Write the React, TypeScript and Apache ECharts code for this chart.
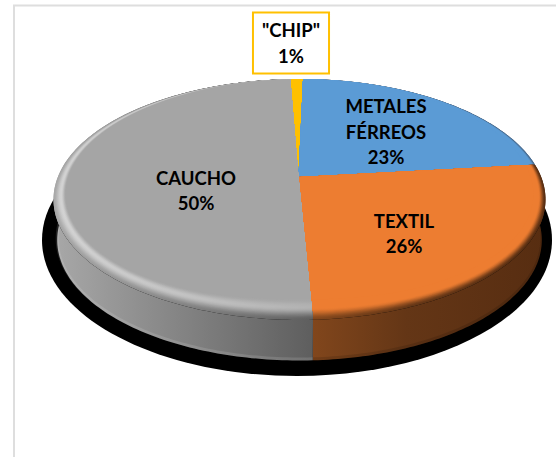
import React, { useEffect, useRef } from "react";
import * as echarts from "echarts";

// Shares of the material breakdown, clockwise from just left of twelve o'clock.
const sliceNames = ['"CHIP"', "METALES\nFÉRREOS", "TEXTIL", "CAUCHO"];
const sliceValues = [1, 23, 26, 50];
const sliceColors = ["#FFC000", "#5B9BD5", "#ED7D31", "#A5A5A5"];

// Side wall colour along x, and the rim highlight (left, right, position on the rim).
const wallStops: [number, string][][] = [
  [[0, "#b08a10"], [1, "#b08a10"]],
  [[0, "#5a6f85"], [1, "#46688c"]],
  [[0, "#81461c"], [0.4, "#643616"], [1, "#572d11"]],
  [[0, "#a8a8a8"], [1, "#5e5e5e"]],
];
const ridgeColors = [
  ["#FFC000", "#FFC000"],
  ["#5B9BD5", "#5B9BD5"],
  ["#ED7D31", "#ED7D31"],
  ["#d4d4d4", "#b2b2b2"],
];
const ridgeAt = [0.3, 0.3, 0.55, 0.6];
const wallFoot = ["rgba(0,0,0,0)", "rgba(0,0,0,0)", "rgba(0,0,0,0.12)", "rgba(255,255,255,0.12)"];
const labelAnchors = [
  [291, 43],
  [386, 131.5],
  [404, 233.5],
  [196, 190.5],
];

// Tilted-disc projection of the pie.
const W = 556;
const H = 457;
const CX = 299.5;
const CY = 199.5;
const RX = 246;
const RY = 120.5;
const APEX = [298.5, 177];
const DEPTH = 40.5;
const RIM_BANDS = 20;
const START_DEG = -2.6;
const total = sliceValues.reduce((a, b) => a + b, 0);
const K = (CY - APEX[1]) / RY;
const S = Math.sqrt(1 - K * K);

const rad = (d: number) => (d * Math.PI) / 180;

// A point on the disc's edge for a clockwise angle from twelve o'clock.
function edge(deg: number): number[] {
  const x = Math.sin(rad(deg));
  const y = Math.cos(rad(deg));
  const d = 1 + K * y;
  return [CX + (RX * x * S) / d, CY - (RY * (y + K)) / d];
}

function rimWidth(deg: number): number {
  return 0.5 + 20 * ((1 - Math.cos(rad(deg))) / 2);
}

function sliceRange(i: number): number[] {
  let from = START_DEG;
  for (let j = 0; j < i; j++) from += (sliceValues[j] / total) * 360;
  return [from, from + (sliceValues[i] / total) * 360];
}

function sampled(from: number, to: number): number[] {
  const out: number[] = [];
  const n = Math.max(2, Math.ceil(to - from));
  for (let i = 0; i <= n; i++) out.push(from + ((to - from) * i) / n);
  return out;
}

function toRgb(c: string): number[] {
  return [1, 3, 5].map((o) => parseInt(c.slice(o, o + 2), 16));
}

function toHex(rgb: number[]): string {
  return "#" + rgb.map((v) => Math.round(v).toString(16).padStart(2, "0")).join("");
}

function mix(a: string, b: string, t: number): string {
  const ca = toRgb(a);
  const cb = toRgb(b);
  return toHex(ca.map((v, n) => v + (cb[n] - v) * t));
}

function smooth(t: number): number {
  return t * t * (3 - 2 * t);
}

function horizontal(x0: number, x1: number, stops: { offset: number; color: string }[]) {
  return new echarts.graphic.LinearGradient(x0, 0, x1, 0, stops, true);
}

function extent(points: number[][]): number[] {
  const xs = points.map((p) => p[0]);
  return [Math.min(...xs), Math.max(...xs)];
}

function renderWall(params: any) {
  const i = params.dataIndex;
  const [from, to] = sliceRange(i);
  const top = sampled(from, to).map(edge);
  const foot = top.map(([x, y]) => [CX + (x - CX) * 0.985, y + DEPTH]);
  const [x0, x1] = extent(top);
  return {
    type: "group",
    children: [
      {
        type: "polygon",
        shape: { points: top.concat(foot.slice().reverse()) },
        style: { fill: horizontal(x0, x1, wallStops[i].map(([offset, color]) => ({ offset, color }))) },
      },
      {
        type: "polyline",
        shape: { points: foot.map(([x, y]) => [x, y - 1.5]) },
        style: { stroke: wallFoot[i], lineWidth: 3, fill: "none" },
      },
    ],
  };
}

// Rim colour at position t: blends out of the wall, through the highlight, into the flat face.
function rimFill(i: number, t: number, x0: number, x1: number) {
  const peak = ridgeAt[i];
  const stops = wallStops[i].map(([offset, wall]) => {
    const ridge = mix(ridgeColors[i][0], ridgeColors[i][1], offset);
    const color =
      t < peak
        ? mix(wall, ridge, smooth(t / peak))
        : mix(ridge, sliceColors[i], smooth((t - peak) / (1 - peak)));
    return { offset, color };
  });
  return horizontal(x0, x1, stops);
}

function renderFace(params: any) {
  const i = params.dataIndex;
  const [from, to] = sliceRange(i);
  const angles = sampled(from, to);
  const [x0, x1] = extent(angles.map(edge));
  const children = [];
  for (let b = 0; b <= RIM_BANDS; b++) {
    const t = b / RIM_BANDS;
    const arc = angles.map((deg) => {
      const p = edge(deg);
      const dx = p[0] - APEX[0];
      const dy = p[1] - APEX[1];
      const f = 1 - (rimWidth(deg) * t) / Math.hypot(dx, dy);
      return [APEX[0] + dx * f, APEX[1] + dy * f];
    });
    children.push({
      type: "polygon",
      shape: { points: [APEX, ...arc] },
      style: { fill: b === RIM_BANDS ? sliceColors[i] : rimFill(i, t, x0, x1) },
    });
  }
  return { type: "group", children };
}

function renderLabel(params: any, api: any) {
  const i = params.dataIndex;
  const name = sliceNames[i];
  const boxed = i === 0;
  return {
    type: "text",
    style: {
      text: `${name}\n${api.value(0)}%`,
      x: labelAnchors[i][0],
      y: labelAnchors[i][1],
      align: "center",
      verticalAlign: "middle",
      font: 'bold 18.5px Lato, "Open Sans", sans-serif',
      lineHeight: 25.5,
      fill: "#000000",
      backgroundColor: boxed ? "#ffffff" : undefined,
      borderColor: boxed ? "#FFC000" : undefined,
      borderWidth: boxed ? 2 : 0,
      padding: boxed ? [4, 8, 4, 8] : 0,
    },
  };
}

export default function App() {
  const ref = useRef<HTMLDivElement>(null);
  useEffect(() => {
    document.body.style.margin = "0";
    const chart = echarts.init(ref.current!, null, { renderer: "svg" });
    const seriesData = sliceValues.map((v, i) => ({ name: sliceNames[i], value: [v] }));
    chart.setOption({
      animation: false,
      backgroundColor: "#ffffff",
      graphic: [
        {
          type: "polyline",
          silent: true,
          shape: { points: [[14, H], [14, 5.5], [W, 5.5]] },
          style: { stroke: "#dedede", lineWidth: 2, fill: "none" },
        },
        {
          type: "ellipse",
          silent: true,
          shape: { cx: 297, cy: 240, rx: 255, ry: 136 },
          style: { fill: "#000000" },
        },
      ],
      series: [
        { type: "custom", coordinateSystem: "none", z: 2, silent: true, data: seriesData, renderItem: renderWall },
        { type: "custom", coordinateSystem: "none", z: 3, silent: true, data: seriesData, renderItem: renderFace },
        { type: "custom", coordinateSystem: "none", z: 4, silent: true, data: seriesData, renderItem: renderLabel },
      ],
    });
    return () => chart.dispose();
  }, []);
  return <div ref={ref} style={{ width: W, height: H }} />;
}
